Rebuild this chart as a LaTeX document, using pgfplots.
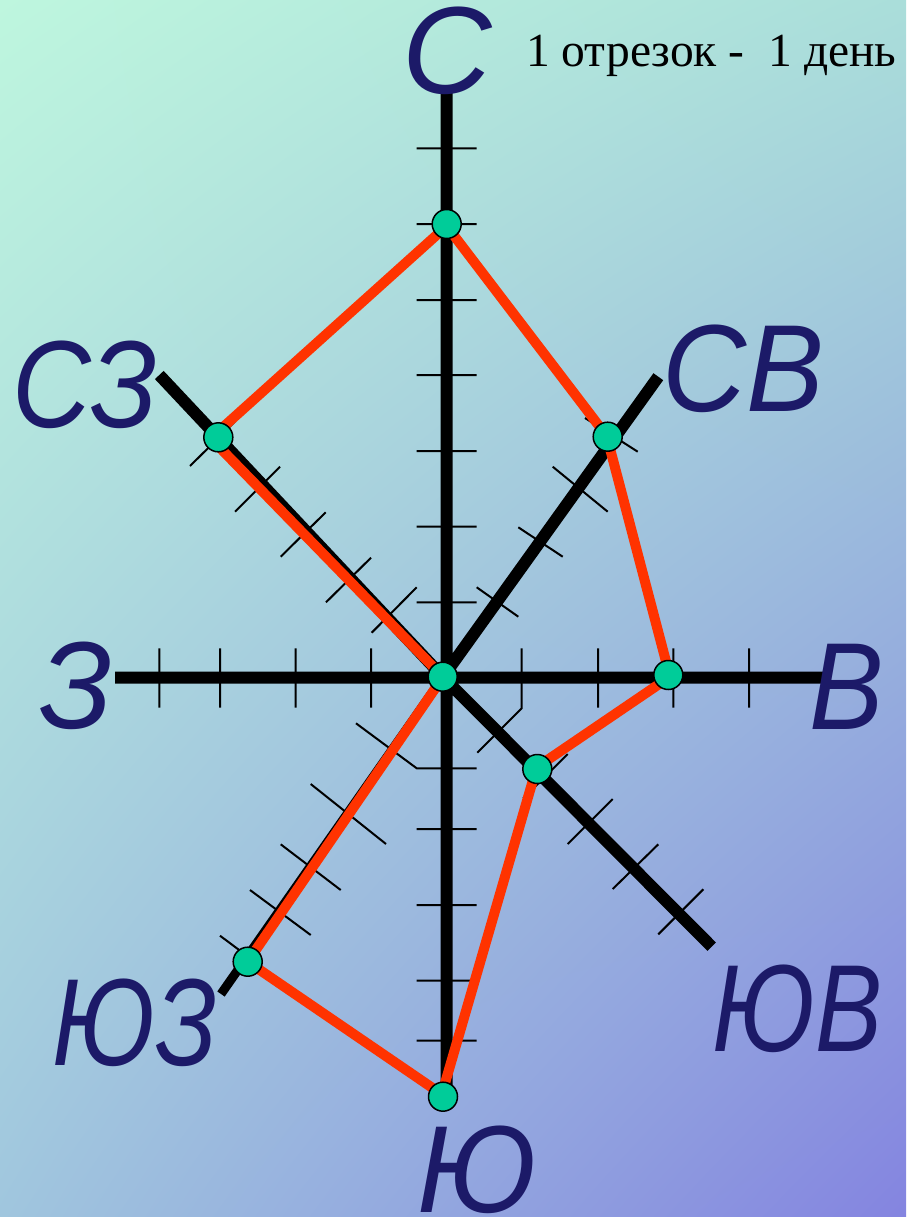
\documentclass[border=0pt]{standalone}
\usepackage{fontspec}
\setmainfont{Liberation Serif}
\newfontfamily\dirfont{Liberation Sans}
\usepackage{pgfplots}
\pgfplotsset{compat=1.18}
\usetikzlibrary{shadings}
\definecolor{BgTL}{RGB}{190,246,222}
\definecolor{BgTR}{RGB}{170,222,218}
\definecolor{BgBL}{RGB}{160,198,222}
\definecolor{BgBR}{RGB}{132,132,224}
\definecolor{Navy}{RGB}{28,26,104}
\definecolor{RoseRed}{RGB}{255,51,0}
\definecolor{Dot}{RGB}{0,204,153}
\tikzset{dirlabel/.style={anchor=base, inner sep=0pt, text=Navy,
  font=\dirfont\itshape\fontsize{124}{124}\selectfont}}

\begin{document}
\begin{tikzpicture}
\begin{axis}[
  scale only axis,
  width=906pt, height=1217pt,
  xmin=0, xmax=906, ymin=0, ymax=1217,
  y dir=reverse,
  hide axis,
  clip=false,
  unbounded coords=jump,
]
\shade[upper left=BgTL, upper right=BgTR, lower left=BgBL, lower right=BgBR]
  (axis cs:0,0) rectangle (axis cs:906,1217);
\coordinate (tl) at (axis cs:0,0);
\coordinate (br) at (axis cs:906,1217);

% eight directions
\addplot[black, line width=12pt, forget plot] coordinates {
  (446.7,92) (446.7,1090) (nan,nan)
  (115,677.5) (826,677.5) (nan,nan)
  (443,677) (658.3,376.7) (nan,nan)
  (443,677) (159.3,375) (nan,nan)
  (443,677) (711.7,946.7)};
\addplot[black, line width=9pt, forget plot] coordinates {
  (443,677) (221,994)};

% one tick = one day
\addplot[black, line width=2pt, forget plot] coordinates {
  (416.7,148.3) (476.7,148.3) (nan,nan)
  (416.7,224) (476.7,224) (nan,nan)
  (416.7,300) (476.7,300) (nan,nan)
  (416.7,375) (476.7,375) (nan,nan)
  (416.7,451) (476.7,451) (nan,nan)
  (416.7,526.7) (476.7,526.7) (nan,nan)
  (416.7,602.3) (476.7,602.3) (nan,nan)
  (356,723.3) (416.7,768.3) (476.7,768.3) (nan,nan)
  (416.7,829) (476.7,829) (nan,nan)
  (416.7,905) (476.7,905) (nan,nan)
  (416.7,980.7) (476.7,980.7) (nan,nan)
  (416.7,1040.7) (476.7,1040.7) (nan,nan)
  (159.3,648.3) (159.3,707.7) (nan,nan)
  (220,648.3) (220,707.7) (nan,nan)
  (295.5,648.3) (295.5,707.7) (nan,nan)
  (371,648.3) (371,707.7) (nan,nan)
  (521.7,648.3) (521.7,708.3) (477.3,752.7) (nan,nan)
  (598,648.3) (598,707.7) (nan,nan)
  (673.3,648.3) (673.3,707.7) (nan,nan)
  (749,648.3) (749,707.7) (nan,nan)
  (371.7,632.7) (416.7,587.3) (nan,nan)
  (326,602.3) (371,557.7) (nan,nan)
  (280.7,556.7) (325.7,512.3) (nan,nan)
  (235,511.7) (280,466.7) (nan,nan)
  (190,466) (235,421.5) (nan,nan)
  (476.7,587.3) (518.3,616.7) (nan,nan)
  (518.3,527.3) (562.7,556.7) (nan,nan)
  (552.7,466.7) (607.7,511.7) (nan,nan)
  (585,418) (637.7,451.7) (nan,nan)
  (523.3,798.3) (567.7,754) (nan,nan)
  (567.7,844) (612.7,799) (nan,nan)
  (612.7,889) (658.3,844.3) (nan,nan)
  (658.3,934.3) (703.3,889.3) (nan,nan)
  (310.7,784) (386,844) (nan,nan)
  (280.7,844.3) (340.7,890) (nan,nan)
  (250,890) (310.7,935) (nan,nan)
  (220,935.7) (262,967)};

% days of wind per direction
\addplot[only marks, mark=*, mark size=14.5pt,
  mark options={fill=Dot, draw=black, line width=1.5pt}, forget plot]
  coordinates {(446.7,224) (607.7,436.7) (668.3,675) (537.3,769)
    (443,1096.7) (247.7,961.7) (442.7,676.7) (218.3,437.3)};
\addplot[RoseRed, line width=10pt, line join=miter, forget plot]
  coordinates {(446.7,226) (606.7,436) (670,676.7) (536.7,767.3)
    (441.8,1094.3) (247.7,961.7) (443,677) (210.7,438.3) (446.7,226)};

\node[dirlabel] at (axis cs:447,94) {С};
\node[dirlabel, xscale=0.88] at (axis cs:85,427) {СЗ};
\node[dirlabel, xscale=0.94] at (axis cs:743,411) {СВ};
\node[dirlabel, xscale=0.96] at (axis cs:76.5,728) {З};
\node[dirlabel, xscale=0.9] at (axis cs:846.5,729) {В};
\node[dirlabel, xscale=0.81] at (axis cs:135,1065) {ЮЗ};
\node[dirlabel, xscale=0.81] at (axis cs:797.5,1051) {ЮВ};
\node[dirlabel, xscale=0.94] at (axis cs:477.5,1212) {Ю};
\node[anchor=base west, inner sep=0pt, font=\fontsize{47.5}{47.5}\selectfont]
  at (axis cs:526,66.7) {1 отрезок -\ \ 1 день};
\end{axis}
\pgfresetboundingbox
\useasboundingbox (tl) rectangle (br);
\end{tikzpicture}
\end{document}
